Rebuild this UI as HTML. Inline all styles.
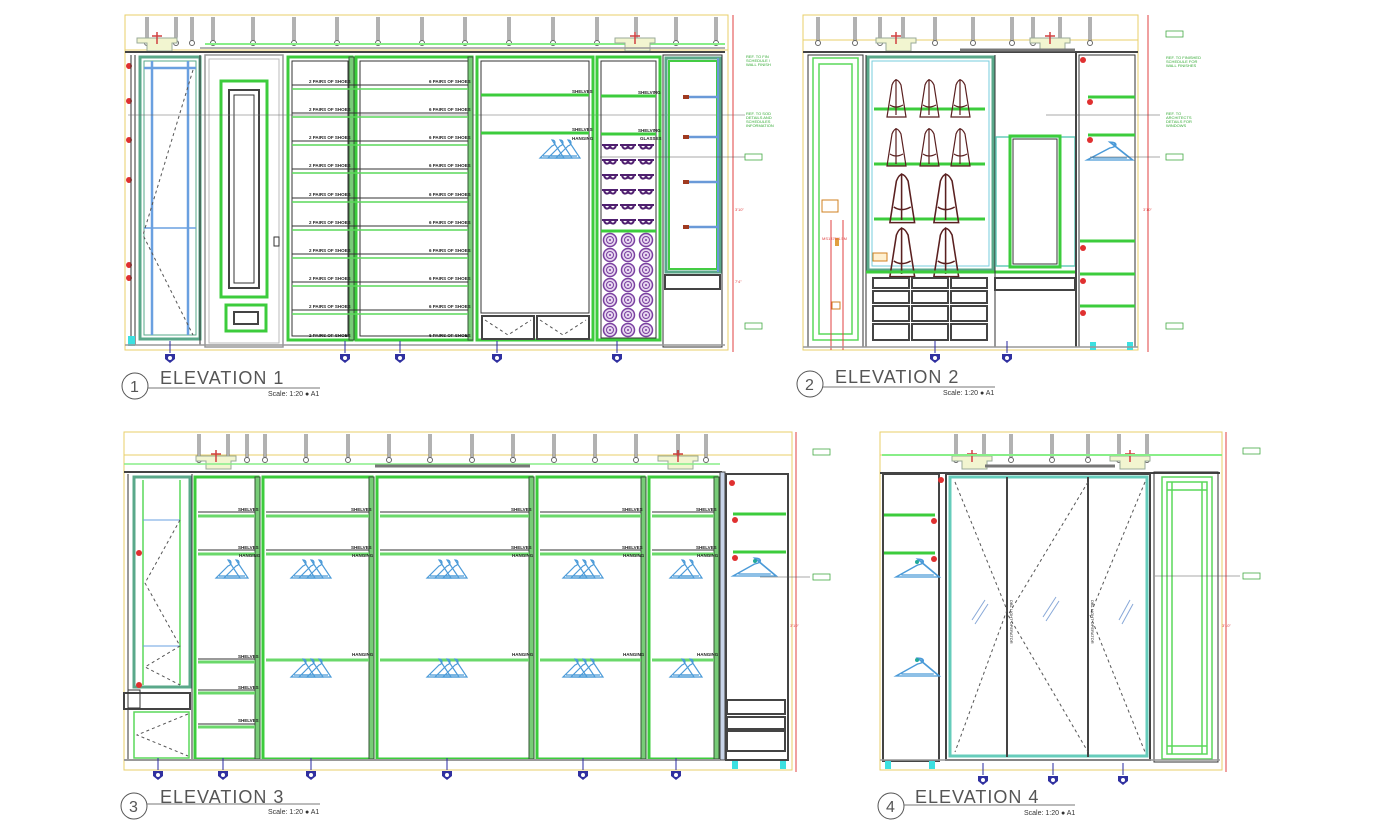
<!DOCTYPE html>
<html><head><meta charset="utf-8"><style>
html,body{margin:0;padding:0;background:#fff;}
svg{display:block;}
text{font-family:"Liberation Sans",sans-serif;}
.g{stroke:#3ccc3c;stroke-width:3;fill:none;}
.g2{stroke:#5ad85a;stroke-width:1.5;fill:none;}
.k{stroke:#333;stroke-width:1;fill:none;}
.kk{stroke:#444;stroke-width:2;fill:none;}
.gr{stroke:#999;stroke-width:1.5;fill:none;}
.y{stroke:#e8cf6a;stroke-width:1;fill:none;}
.t{stroke:#5aa88a;stroke-width:3;fill:none;}
.b{stroke:#6aa0e0;stroke-width:2.5;fill:none;}
.r{stroke:#e04040;stroke-width:1;fill:none;}
.d{stroke:#555;stroke-width:1;fill:none;stroke-dasharray:3 3;}
.s{font-size:4.5px;fill:#222;font-weight:bold;}
.c{font-size:4px;fill:#3a3;}
.ti{font-size:18px;fill:#555;letter-spacing:1px;}
.sc{font-size:7px;fill:#333;}
</style></head><body>
<svg width="1389" height="828" viewBox="0 0 1389 828" xmlns="http://www.w3.org/2000/svg">
<defs>
<g id="rod"><line x1="0" y1="0" x2="0" y2="24" stroke="#666" stroke-width="3"/><line x1="0" y1="0" x2="0" y2="24" stroke="#fff" stroke-width="1"/><circle cx="0" cy="26" r="2.5" fill="none" stroke="#666"/></g>
<g id="hg"><path d="M12,0 q3,0 3,3 q0,2 -3,3 L0,18 L24,18 Z M3,16 L21,16" fill="none" stroke="#4a9ad8" stroke-width="1.2"/></g>
<g id="hg3"><use href="#hg" x="0"/><use href="#hg" x="8"/><use href="#hg" x="16"/></g>
<g id="hg2"><use href="#hg" x="0"/><use href="#hg" x="8"/></g>
<g id="mk"><line x1="0" y1="-10" x2="0" y2="2" stroke="#2a2aa0" stroke-width="1"/><path d="M-5,3 L5,3 L5,8 L0,12 L-5,8 Z" fill="#3030a0"/><circle cx="0" cy="7" r="2" fill="#fff"/></g>
<g id="bag"><path d="M3,42 L8,10 Q12,0 17,10 L22,42 Z M12,4 L12,40 M6,30 Q12,34 19,30" fill="none" stroke="#5a2020" stroke-width="1.2"/></g>
<g id="gl"><path d="M0,3 h16 M2,3 q1,5 5,3 q1,-3 2,0 q4,2 5,-3" fill="none" stroke="#502070" stroke-width="2"/></g>
<g id="roll"><circle cx="7" cy="7" r="6.5" fill="#e8d8f0" stroke="#7a40a0" stroke-width="1.5"/><circle cx="7" cy="7" r="3.5" fill="none" stroke="#7a40a0"/><circle cx="7" cy="7" r="1" fill="#7a40a0"/></g>
<g id="ceil">
<path d="M0,28 h40 v5 h-5 v8 h-25 v-8 h-10z" fill="#f2f5d0" stroke="#9a9" stroke-width="1"/>
<path d="M15,26 h10 M20,22 v12" stroke="#d04040" stroke-width="1.5" fill="none"/>
</g>
</defs>

<!-- ================= ELEVATION 1 ================= -->
<rect x="125" y="15" width="603" height="335" class="y"/>
<line x1="125" y1="50" x2="728" y2="50" class="y"/>
<g>
<use href="#rod" x="147" y="17"/><use href="#rod" x="176" y="17"/><use href="#rod" x="192" y="17"/><use href="#rod" x="213" y="17"/><use href="#rod" x="253" y="17"/><use href="#rod" x="294" y="17"/><use href="#rod" x="337" y="17"/><use href="#rod" x="378" y="17"/><use href="#rod" x="422" y="17"/><use href="#rod" x="465" y="17"/><use href="#rod" x="509" y="17"/><use href="#rod" x="553" y="17"/><use href="#rod" x="597" y="17"/><use href="#rod" x="636" y="17"/><use href="#rod" x="676" y="17"/><use href="#rod" x="716" y="17"/>
</g>
<line x1="205" y1="44" x2="725" y2="44" stroke="#8e8" stroke-width="2"/>
<use href="#ceil" x="137" y="10"/><use href="#ceil" x="615" y="10"/>
<line x1="125" y1="52" x2="725" y2="52" class="kk"/>
<line x1="200" y1="48" x2="725" y2="48" class="gr"/>
<!-- left red markers -->
<g fill="#e03030"><circle cx="129" cy="66" r="3"/><circle cx="129" cy="101" r="3"/><circle cx="129" cy="140" r="3"/><circle cx="129" cy="180" r="3"/><circle cx="129" cy="265" r="3"/><circle cx="129" cy="278" r="3"/></g>
<line x1="131" y1="55" x2="131" y2="345" class="k"/><line x1="135" y1="55" x2="135" y2="345" class="k"/>
<rect x="128" y="336" width="7" height="10" fill="#3ce0e0"/>
<!-- left glass panel -->
<rect x="140" y="57" width="60" height="282" class="t"/>
<rect x="144" y="61" width="52" height="274" stroke="#5a8" stroke-width="1" fill="none"/>
<line x1="152" y1="61" x2="152" y2="335" class="b"/><line x1="188" y1="61" x2="188" y2="335" class="b"/>
<line x1="144" y1="68" x2="196" y2="68" class="b"/><line x1="144" y1="228" x2="196" y2="228" stroke="#6aa0e0" stroke-width="1.5"/>
<path d="M193,70 L143,235 L193,335" class="d"/>
<line x1="200" y1="55" x2="200" y2="345" class="k"/>
<!-- door -->
<rect x="205" y="55" width="78" height="292" class="gr"/>
<rect x="209" y="59" width="70" height="284" stroke="#bbb" fill="none"/>
<rect x="221" y="81" width="46" height="216" class="g"/>
<rect x="229" y="90" width="30" height="198" class="kk"/>
<rect x="234" y="95" width="20" height="188" class="k"/>
<rect x="226" y="305" width="40" height="26" class="g"/>
<rect x="234" y="312" width="24" height="12" class="kk"/>
<rect x="274" y="237" width="5" height="9" class="k"/>
<line x1="128" y1="115" x2="745" y2="115" stroke="#666" stroke-width="0.6"/>
<!-- shoe col 1 -->
<rect x="288" y="57" width="64" height="283" class="g"/>
<rect x="292" y="61" width="56" height="275" class="k"/>
<rect x="349" y="57" width="5" height="283" fill="#7c7" stroke="#353"/>
<!-- shoe col 2 -->
<rect x="356" y="57" width="116" height="283" class="g"/>
<rect x="360" y="61" width="108" height="275" class="k"/>
<rect x="468" y="57" width="5" height="283" fill="#7c7" stroke="#353"/>
<g>
<line x1="292" y1="85" x2="468" y2="85" class="k"/><line x1="292" y1="89" x2="468" y2="89" class="g2" stroke-width="3"/>
<line x1="292" y1="113" x2="468" y2="113" class="k"/><line x1="292" y1="117" x2="468" y2="117" class="g2" stroke-width="3"/>
<line x1="292" y1="141" x2="468" y2="141" class="k"/><line x1="292" y1="145" x2="468" y2="145" class="g2" stroke-width="3"/>
<line x1="292" y1="169" x2="468" y2="169" class="k"/><line x1="292" y1="173" x2="468" y2="173" class="g2" stroke-width="3"/>
<line x1="292" y1="198" x2="468" y2="198" class="k"/><line x1="292" y1="202" x2="468" y2="202" class="g2" stroke-width="3"/>
<line x1="292" y1="226" x2="468" y2="226" class="k"/><line x1="292" y1="230" x2="468" y2="230" class="g2" stroke-width="3"/>
<line x1="292" y1="254" x2="468" y2="254" class="k"/><line x1="292" y1="258" x2="468" y2="258" class="g2" stroke-width="3"/>
<line x1="292" y1="282" x2="468" y2="282" class="k"/><line x1="292" y1="286" x2="468" y2="286" class="g2" stroke-width="3"/>
<line x1="292" y1="310" x2="468" y2="310" class="k"/><line x1="292" y1="314" x2="468" y2="314" class="g2" stroke-width="3"/>
</g>
<g class="s">
<text x="309" y="83">2 PAIRS OF SHOES</text><text x="429" y="83">6 PAIRS OF SHOES</text>
<text x="309" y="111">2 PAIRS OF SHOES</text><text x="429" y="111">6 PAIRS OF SHOES</text>
<text x="309" y="139">2 PAIRS OF SHOES</text><text x="429" y="139">6 PAIRS OF SHOES</text>
<text x="309" y="167">2 PAIRS OF SHOES</text><text x="429" y="167">6 PAIRS OF SHOES</text>
<text x="309" y="196">2 PAIRS OF SHOES</text><text x="429" y="196">6 PAIRS OF SHOES</text>
<text x="309" y="224">2 PAIRS OF SHOES</text><text x="429" y="224">6 PAIRS OF SHOES</text>
<text x="309" y="252">2 PAIRS OF SHOES</text><text x="429" y="252">6 PAIRS OF SHOES</text>
<text x="309" y="280">2 PAIRS OF SHOES</text><text x="429" y="280">6 PAIRS OF SHOES</text>
<text x="309" y="308">2 PAIRS OF SHOES</text><text x="429" y="308">6 PAIRS OF SHOES</text>
<text x="309" y="337">2 PAIRS OF SHOES</text><text x="429" y="337">6 PAIRS OF SHOES</text>
</g>
<!-- hanging col -->
<rect x="477" y="57" width="116" height="283" class="g"/>
<rect x="481" y="61" width="108" height="252" class="k"/>
<line x1="481" y1="95" x2="589" y2="95" class="g"/><line x1="481" y1="133" x2="589" y2="133" class="g"/>
<text x="572" y="93" class="s">SHELVES</text><text x="572" y="131" class="s">SHELVES</text><text x="572" y="140" class="s">HANGING</text>
<use href="#hg3" x="540" y="140"/>
<rect x="482" y="316" width="52" height="23" class="kk"/><rect x="537" y="316" width="52" height="23" class="kk"/>
<path d="M485,320 L508,335 L531,320 M540,320 L563,335 L586,320" class="d"/>
<!-- col glasses/rolls -->
<rect x="597" y="57" width="63" height="283" class="g"/>
<rect x="601" y="61" width="55" height="277" class="k"/>
<line x1="601" y1="96" x2="656" y2="96" class="g"/><line x1="601" y1="134" x2="656" y2="134" class="g"/>
<text x="638" y="94" class="s">SHELVING</text><text x="638" y="132" class="s">SHELVING</text><text x="640" y="140" class="s">GLASSES</text>
<g>
<use href="#gl" x="602" y="142"/><use href="#gl" x="620" y="142"/><use href="#gl" x="638" y="142"/>
<use href="#gl" x="602" y="157"/><use href="#gl" x="620" y="157"/><use href="#gl" x="638" y="157"/>
<use href="#gl" x="602" y="172"/><use href="#gl" x="620" y="172"/><use href="#gl" x="638" y="172"/>
<use href="#gl" x="602" y="187"/><use href="#gl" x="620" y="187"/><use href="#gl" x="638" y="187"/>
<use href="#gl" x="602" y="202"/><use href="#gl" x="620" y="202"/><use href="#gl" x="638" y="202"/>
<use href="#gl" x="602" y="217"/><use href="#gl" x="620" y="217"/><use href="#gl" x="638" y="217"/>
</g>
<line x1="601" y1="231" x2="656" y2="231" class="g"/>
<g>
<use href="#roll" x="603" y="233"/><use href="#roll" x="621" y="233"/><use href="#roll" x="639" y="233"/>
<use href="#roll" x="603" y="248"/><use href="#roll" x="621" y="248"/><use href="#roll" x="639" y="248"/>
<use href="#roll" x="603" y="263"/><use href="#roll" x="621" y="263"/><use href="#roll" x="639" y="263"/>
<use href="#roll" x="603" y="278"/><use href="#roll" x="621" y="278"/><use href="#roll" x="639" y="278"/>
<use href="#roll" x="603" y="293"/><use href="#roll" x="621" y="293"/><use href="#roll" x="639" y="293"/>
<use href="#roll" x="603" y="308"/><use href="#roll" x="621" y="308"/><use href="#roll" x="639" y="308"/>
<use href="#roll" x="603" y="323"/><use href="#roll" x="621" y="323"/><use href="#roll" x="639" y="323"/>
</g>
<!-- right glass shelves -->
<rect x="663" y="55" width="59" height="292" class="k"/>
<rect x="666" y="58" width="54" height="214" class="t" stroke="#7cd" />
<rect x="669" y="61" width="48" height="208" stroke="#4c4" stroke-width="2" fill="none"/>
<g stroke="#6a9ad8" stroke-width="2.5"><line x1="685" y1="97" x2="718" y2="97"/><line x1="685" y1="137" x2="718" y2="137"/><line x1="685" y1="182" x2="718" y2="182"/><line x1="685" y1="227" x2="718" y2="227"/></g>
<g fill="#a03a20"><rect x="683" y="95" width="6" height="4"/><rect x="683" y="135" width="6" height="4"/><rect x="683" y="180" width="6" height="4"/><rect x="683" y="225" width="6" height="4"/></g>
<line x1="718" y1="58" x2="718" y2="272" stroke="#6a9ad8" stroke-width="2"/>
<rect x="665" y="275" width="55" height="14" class="kk"/>
<line x1="125" y1="345" x2="725" y2="345" class="gr"/>
<line x1="733" y1="15" x2="733" y2="352" class="r"/>
<text x="735" y="211" font-size="4" fill="#e04040">3'10"</text>
<text x="735" y="283" font-size="4" fill="#e04040">7'4"</text>
<g class="c"><text x="746" y="58">REF. TO FIN</text><text x="746" y="62">SCHEDULE /</text><text x="746" y="66">WALL FINISH</text>
<text x="746" y="115">REF. TO SOD</text><text x="746" y="119">DETAILS AND</text><text x="746" y="123">SCHEDULES</text><text x="746" y="127">INFORMATION</text></g>
<line x1="600" y1="157" x2="745" y2="157" stroke="#555" stroke-width="0.6"/>
<rect x="745" y="154" width="17" height="6" stroke="#4a4" fill="none" stroke-width="0.8"/>
<rect x="745" y="323" width="17" height="6" stroke="#4a4" fill="none" stroke-width="0.8"/>
<use href="#mk" x="170" y="351"/><use href="#mk" x="345" y="351"/><use href="#mk" x="400" y="351"/><use href="#mk" x="497" y="351"/><use href="#mk" x="617" y="351"/>
<!-- title 1 -->
<circle cx="135" cy="386" r="13" fill="none" stroke="#555" stroke-width="1"/>
<text x="130" y="392" font-size="16" fill="#555">1</text>
<line x1="148" y1="388" x2="320" y2="388" stroke="#777" stroke-width="1"/>
<text x="160" y="384" class="ti">ELEVATION  1</text>
<text x="268" y="396" class="sc">Scale:  1:20  ●  A1</text>

<!-- ================= ELEVATION 2 ================= -->
<rect x="803" y="15" width="335" height="335" class="y"/>
<line x1="803" y1="40" x2="1138" y2="40" class="y"/>
<g><use href="#rod" x="818" y="17"/><use href="#rod" x="855" y="17"/><use href="#rod" x="880" y="17"/><use href="#rod" x="903" y="17"/><use href="#rod" x="935" y="17"/><use href="#rod" x="973" y="17"/><use href="#rod" x="1012" y="17"/><use href="#rod" x="1033" y="17"/><use href="#rod" x="1060" y="17"/><use href="#rod" x="1090" y="17"/></g>
<use href="#ceil" x="876" y="10"/><use href="#ceil" x="1030" y="10"/>
<line x1="803" y1="52" x2="1138" y2="52" class="kk"/>
<line x1="960" y1="50" x2="1075" y2="50" stroke="#777" stroke-width="3"/>
<rect x="808" y="55" width="55" height="292" class="k"/>
<rect x="813" y="58" width="45" height="282" class="g2" stroke-width="2"/>
<rect x="819" y="64" width="33" height="270" class="g2" stroke-width="2"/>
<rect x="822" y="200" width="16" height="12" stroke="#d08020" fill="none"/>
<rect x="835" y="238" width="4" height="8" fill="#e0a040"/>
<rect x="832" y="302" width="8" height="7" stroke="#d08020" fill="none"/>
<line x1="831" y1="220" x2="831" y2="350" class="r"/><line x1="843" y1="220" x2="843" y2="350" class="r"/>
<text x="822" y="240" font-size="4" fill="#e04040">MS1370/1.5M</text>
<rect x="873" y="253" width="14" height="8" stroke="#d08020" fill="#fff0d0"/>
<line x1="866" y1="55" x2="866" y2="347" class="k"/>
<rect x="868" y="57" width="125" height="213" class="t"/>
<rect x="872" y="61" width="117" height="205" stroke="#7cd" fill="none"/>
<line x1="874" y1="109" x2="985" y2="109" class="g"/><line x1="874" y1="164" x2="985" y2="164" class="g"/><line x1="874" y1="219" x2="985" y2="219" class="g"/>
<use href="#bag" x="884" y="75"/><use href="#bag" x="917" y="75"/><use href="#bag" x="948" y="75"/>
<use href="#bag" x="884" y="124"/><use href="#bag" x="917" y="124"/><use href="#bag" x="948" y="124"/>
<use href="#bag" transform="translate(886,168) scale(1.3)"/><use href="#bag" transform="translate(930,168) scale(1.3)"/>
<use href="#bag" transform="translate(886,222) scale(1.3)"/><use href="#bag" transform="translate(930,222) scale(1.3)"/>
<line x1="866" y1="272" x2="1076" y2="272" class="g"/>
<g class="kk" stroke-width="1.5"><rect x="873" y="278" width="36" height="10"/><rect x="912" y="278" width="36" height="10"/><rect x="951" y="278" width="36" height="10"/>
<rect x="873" y="291" width="36" height="12"/><rect x="912" y="291" width="36" height="12"/><rect x="951" y="291" width="36" height="12"/>
<rect x="873" y="306" width="36" height="15"/><rect x="912" y="306" width="36" height="15"/><rect x="951" y="306" width="36" height="15"/>
<rect x="873" y="324" width="36" height="16"/><rect x="912" y="324" width="36" height="16"/><rect x="951" y="324" width="36" height="16"/></g>
<line x1="995" y1="55" x2="995" y2="347" class="k"/>
<rect x="996" y="137" width="79" height="129" stroke="#6cb" stroke-width="1.5" fill="none"/>
<rect x="1010" y="136" width="50" height="131" class="g"/>
<rect x="1013" y="139" width="44" height="125" class="k"/>
<rect x="995" y="278" width="80" height="12" class="kk"/>
<line x1="1076" y1="52" x2="1076" y2="347" class="kk"/>
<rect x="1079" y="55" width="56" height="292" class="k"/>
<g><line x1="1088" y1="97" x2="1135" y2="97" class="g"/><line x1="1088" y1="135" x2="1135" y2="135" class="g"/><line x1="1080" y1="241" x2="1135" y2="241" class="g"/><line x1="1080" y1="274" x2="1135" y2="274" class="g"/><line x1="1080" y1="306" x2="1135" y2="306" class="g"/></g>
<g fill="#e03030"><circle cx="1083" cy="60" r="3"/><circle cx="1090" cy="102" r="3"/><circle cx="1090" cy="140" r="3"/><circle cx="1083" cy="248" r="3"/><circle cx="1083" cy="281" r="3"/><circle cx="1083" cy="313" r="3"/></g>
<use href="#hg" transform="translate(1087,142) scale(1.9,1)"/>
<rect x="1090" y="342" width="6" height="8" fill="#3ce0e0"/><rect x="1127" y="342" width="6" height="8" fill="#3ce0e0"/>
<line x1="803" y1="347" x2="1138" y2="347" class="gr"/>
<line x1="1148" y1="15" x2="1148" y2="352" class="r"/>
<text x="1143" y="211" font-size="4" fill="#e04040">3'10"</text>
<line x1="1046" y1="115" x2="1160" y2="115" stroke="#555" stroke-width="0.6"/>
<line x1="1090" y1="157" x2="1160" y2="157" stroke="#555" stroke-width="0.6"/>
<g class="c"><text x="1166" y="59">REF. TO FINISHED</text><text x="1166" y="63">SCHEDULE FOR</text><text x="1166" y="67">WALL FINISHES</text>
<text x="1166" y="115">REF. TO</text><text x="1166" y="119">ARCHITECTS</text><text x="1166" y="123">DETAILS FOR</text><text x="1166" y="127">WINDOWS</text></g>
<rect x="1166" y="154" width="17" height="6" stroke="#4a4" fill="none" stroke-width="0.8"/>
<rect x="1166" y="323" width="17" height="6" stroke="#4a4" fill="none" stroke-width="0.8"/>
<rect x="1166" y="31" width="17" height="6" stroke="#4a4" fill="none" stroke-width="0.8"/>
<use href="#mk" x="935" y="351"/><use href="#mk" x="1007" y="351"/>
<circle cx="810" cy="384" r="13" fill="none" stroke="#555"/>
<text x="805" y="390" font-size="16" fill="#555">2</text>
<line x1="823" y1="387" x2="995" y2="387" stroke="#777"/>
<text x="835" y="383" class="ti">ELEVATION  2</text>
<text x="943" y="395" class="sc">Scale:  1:20  ●  A1</text>

<!-- ================= ELEVATION 3 ================= -->
<rect x="124" y="432" width="668" height="338" class="y"/>
<line x1="124" y1="455" x2="792" y2="455" class="y"/>
<g><use href="#rod" x="199" y="434"/><use href="#rod" x="228" y="434"/><use href="#rod" x="247" y="434"/><use href="#rod" x="265" y="434"/><use href="#rod" x="306" y="434"/><use href="#rod" x="348" y="434"/><use href="#rod" x="389" y="434"/><use href="#rod" x="430" y="434"/><use href="#rod" x="472" y="434"/><use href="#rod" x="513" y="434"/><use href="#rod" x="554" y="434"/><use href="#rod" x="595" y="434"/><use href="#rod" x="636" y="434"/><use href="#rod" x="678" y="434"/><use href="#rod" x="706" y="434"/></g>
<use href="#ceil" x="196" y="428"/><use href="#ceil" x="658" y="428"/>
<line x1="124" y1="464" x2="720" y2="464" stroke="#8e8" stroke-width="1.5"/>
<line x1="375" y1="466" x2="530" y2="466" stroke="#777" stroke-width="3"/>
<line x1="124" y1="472" x2="722" y2="472" class="kk"/>
<line x1="128" y1="474" x2="128" y2="760" class="k"/>
<rect x="134" y="477" width="56" height="210" class="t"/>
<line x1="143" y1="480" x2="143" y2="685" class="g2"/><line x1="180" y1="480" x2="180" y2="685" class="g2"/>
<line x1="143" y1="520" x2="180" y2="520" stroke="#6aa0e0"/><line x1="143" y1="646" x2="180" y2="646" stroke="#6aa0e0"/>
<path d="M180,520 L145,583 L180,646 L145,667 L180,685" class="d"/>
<circle cx="139" cy="553" r="3" fill="#e03030"/><circle cx="139" cy="685" r="3" fill="#e03030"/>
<rect x="124" y="693" width="66" height="16" class="kk"/><rect x="128" y="690" width="12" height="18" class="k"/>
<rect x="134" y="712" width="55" height="46" class="g2" stroke-width="2"/>
<path d="M188,714 L137,735 L188,756" class="d"/>
<line x1="192" y1="474" x2="192" y2="760" class="k"/>
<!-- cols -->
<g>
<rect x="195" y="477" width="63" height="282" class="g"/><rect x="255" y="477" width="5" height="282" fill="#7c7" stroke="#353"/>
<rect x="263" y="477" width="109" height="282" class="g"/><rect x="369" y="477" width="5" height="282" fill="#7c7" stroke="#353"/>
<rect x="377" y="477" width="155" height="282" class="g"/><rect x="529" y="477" width="5" height="282" fill="#7c7" stroke="#353"/>
<rect x="537" y="477" width="107" height="282" class="g"/><rect x="641" y="477" width="5" height="282" fill="#7c7" stroke="#353"/>
<rect x="649" y="477" width="68" height="282" class="g"/><rect x="714" y="477" width="5" height="282" fill="#7c7" stroke="#353"/>
</g>
<g class="k">
<line x1="198" y1="512" x2="255" y2="512"/><line x1="266" y1="512" x2="369" y2="512"/><line x1="380" y1="512" x2="529" y2="512"/><line x1="540" y1="512" x2="641" y2="512"/><line x1="652" y1="512" x2="714" y2="512"/>
<line x1="198" y1="550" x2="255" y2="550"/><line x1="266" y1="550" x2="369" y2="550"/><line x1="380" y1="550" x2="529" y2="550"/><line x1="540" y1="550" x2="641" y2="550"/><line x1="652" y1="550" x2="714" y2="550"/>
<line x1="198" y1="659" x2="255" y2="659"/><line x1="198" y1="690" x2="255" y2="690"/><line x1="198" y1="724" x2="255" y2="724"/>
</g>
<g stroke="#6ad86a" stroke-width="3">
<line x1="198" y1="516" x2="255" y2="516"/><line x1="266" y1="516" x2="369" y2="516"/><line x1="380" y1="516" x2="529" y2="516"/><line x1="540" y1="516" x2="641" y2="516"/><line x1="652" y1="516" x2="714" y2="516"/>
<line x1="198" y1="554" x2="255" y2="554"/><line x1="266" y1="554" x2="369" y2="554"/><line x1="380" y1="554" x2="529" y2="554"/><line x1="540" y1="554" x2="641" y2="554"/><line x1="652" y1="554" x2="714" y2="554"/>
<line x1="198" y1="662" x2="255" y2="662"/><line x1="266" y1="660" x2="369" y2="660"/><line x1="380" y1="660" x2="529" y2="660"/><line x1="540" y1="660" x2="641" y2="660"/><line x1="652" y1="660" x2="714" y2="660"/>
<line x1="198" y1="693" x2="255" y2="693"/><line x1="198" y1="727" x2="255" y2="727"/>
</g>
<g class="s">
<text x="238" y="511">SHELVES</text><text x="351" y="511">SHELVES</text><text x="511" y="511">SHELVES</text><text x="622" y="511">SHELVES</text><text x="696" y="511">SHELVES</text>
<text x="238" y="549">SHELVES</text><text x="351" y="549">SHELVES</text><text x="511" y="549">SHELVES</text><text x="622" y="549">SHELVES</text><text x="696" y="549">SHELVES</text>
<text x="239" y="557">HANGING</text><text x="352" y="557">HANGING</text><text x="512" y="557">HANGING</text><text x="623" y="557">HANGING</text><text x="697" y="557">HANGING</text>
<text x="238" y="658">SHELVES</text><text x="238" y="689">SHELVES</text><text x="238" y="722">SHELVES</text>
<text x="352" y="656">HANGING</text><text x="512" y="656">HANGING</text><text x="623" y="656">HANGING</text><text x="697" y="656">HANGING</text>
</g>
<use href="#hg2" x="216" y="560"/><use href="#hg3" x="291" y="560"/><use href="#hg3" x="427" y="560"/><use href="#hg3" x="563" y="560"/><use href="#hg2" x="670" y="560"/>
<use href="#hg3" x="291" y="659"/><use href="#hg3" x="427" y="659"/><use href="#hg3" x="563" y="659"/><use href="#hg2" x="670" y="659"/>
<!-- right col -->
<rect x="720" y="472" width="5" height="288" fill="#c8d4e8" stroke="#444"/>
<rect x="726" y="474" width="62" height="286" class="kk"/>
<g class="g"><line x1="733" y1="514" x2="786" y2="514"/><line x1="733" y1="552" x2="786" y2="552"/></g>
<g fill="#e03030"><circle cx="732" cy="483" r="3"/><circle cx="735" cy="520" r="3"/><circle cx="735" cy="558" r="3"/></g>
<use href="#hg" transform="translate(733,558) scale(1.8,1)"/>
<circle cx="755" cy="561" r="2" fill="#2a9"/>
<g class="kk" stroke-width="1.5"><rect x="727" y="700" width="58" height="14"/><rect x="727" y="717" width="58" height="12"/><rect x="727" y="731" width="58" height="20"/></g>
<rect x="732" y="761" width="6" height="8" fill="#3ce0e0"/><rect x="780" y="761" width="6" height="8" fill="#3ce0e0"/>
<line x1="124" y1="760" x2="720" y2="760" stroke="#999" stroke-width="2"/>
<line x1="796" y1="432" x2="796" y2="772" class="r"/>
<text x="790" y="627" font-size="4" fill="#e04040">3'10"</text>
<line x1="760" y1="577" x2="810" y2="577" stroke="#555" stroke-width="0.6"/>
<rect x="813" y="574" width="17" height="6" stroke="#4a4" fill="none" stroke-width="0.8"/>
<rect x="813" y="449" width="17" height="6" stroke="#4a4" fill="none" stroke-width="0.8"/>
<use href="#mk" x="158" y="768"/><use href="#mk" x="223" y="768"/><use href="#mk" x="311" y="768"/><use href="#mk" x="447" y="768"/><use href="#mk" x="583" y="768"/><use href="#mk" x="676" y="768"/>
<circle cx="134" cy="806" r="13" fill="none" stroke="#555"/>
<text x="129" y="812" font-size="16" fill="#555">3</text>
<line x1="147" y1="804" x2="320" y2="804" stroke="#777"/>
<text x="160" y="803" class="ti">ELEVATION  3</text>
<text x="268" y="814" class="sc">Scale:  1:20  ●  A1</text>

<!-- ================= ELEVATION 4 ================= -->
<rect x="880" y="432" width="342" height="338" class="y"/>
<line x1="880" y1="455" x2="1222" y2="455" class="y"/>
<g><use href="#rod" x="956" y="434"/><use href="#rod" x="984" y="434"/><use href="#rod" x="1011" y="434"/><use href="#rod" x="1052" y="434"/><use href="#rod" x="1088" y="434"/><use href="#rod" x="1119" y="434"/><use href="#rod" x="1147" y="434"/></g>
<use href="#ceil" x="952" y="428"/><use href="#ceil" x="1110" y="428"/>
<line x1="882" y1="455" x2="1222" y2="455" stroke="#8e8" stroke-width="2"/>
<line x1="985" y1="466" x2="1115" y2="466" stroke="#777" stroke-width="3"/>
<line x1="880" y1="473" x2="1220" y2="473" class="kk"/>
<rect x="883" y="474" width="56" height="287" class="kk"/>
<g class="g"><line x1="884" y1="515" x2="935" y2="515"/><line x1="884" y1="553" x2="935" y2="553"/></g>
<g fill="#e03030"><circle cx="941" cy="480" r="3"/><circle cx="934" cy="521" r="3"/><circle cx="934" cy="559" r="3"/></g>
<use href="#hg" transform="translate(896,559) scale(1.8,1)"/><use href="#hg" transform="translate(896,658) scale(1.8,1)"/>
<circle cx="917" cy="562" r="2" fill="#2a9"/><circle cx="917" cy="660" r="2" fill="#2a9"/>
<rect x="885" y="761" width="6" height="8" fill="#3ce0e0"/><rect x="929" y="761" width="6" height="8" fill="#3ce0e0"/>
<rect x="946" y="474" width="204" height="286" class="kk"/>
<rect x="950" y="477" width="197" height="279" stroke="#6cb" stroke-width="3" fill="none"/>
<line x1="1007" y1="477" x2="1007" y2="757" class="kk"/><line x1="1088" y1="477" x2="1088" y2="757" class="kk"/>
<path d="M955,482 L1007,610 L955,752 M1088,482 L1008,615 L1088,752 M1145,482 L1090,615 L1145,752" class="d"/>
<path d="M972,620 L985,600 M975,624 L988,604 M1043,617 L1056,597 M1046,621 L1059,601 M1119,620 L1130,600 M1122,624 L1133,604" stroke="#88a8d8" stroke-width="1"/>
<text transform="translate(1010,600) rotate(90)" font-size="4" fill="#222">DBL LIGHT OPERATOR</text>
<text transform="translate(1091,600) rotate(90)" font-size="4" fill="#222">DBL LIGHT OPERATOR</text>
<rect x="1154" y="472" width="64" height="290" class="k"/>
<rect x="1162" y="477" width="50" height="282" class="g2" stroke-width="2"/>
<rect x="1167" y="482" width="40" height="272" class="g2" stroke-width="2"/>
<line x1="1172" y1="482" x2="1172" y2="754" class="g2"/><line x1="1202" y1="482" x2="1202" y2="754" class="g2"/>
<line x1="1167" y1="490" x2="1207" y2="490" class="g2"/><line x1="1167" y1="746" x2="1207" y2="746" class="g2"/>
<line x1="880" y1="760" x2="1220" y2="760" class="gr"/>
<line x1="1226" y1="432" x2="1226" y2="772" class="r"/>
<text x="1222" y="627" font-size="4" fill="#e04040">3'10"</text>
<line x1="1155" y1="576" x2="1240" y2="576" stroke="#555" stroke-width="0.6"/>
<rect x="1243" y="573" width="17" height="6" stroke="#4a4" fill="none" stroke-width="0.8"/>
<rect x="1243" y="448" width="17" height="6" stroke="#4a4" fill="none" stroke-width="0.8"/>
<use href="#mk" x="983" y="773"/><use href="#mk" x="1053" y="773"/><use href="#mk" x="1123" y="773"/>
<circle cx="891" cy="806" r="13" fill="none" stroke="#555"/>
<text x="886" y="812" font-size="16" fill="#555">4</text>
<line x1="904" y1="805" x2="1075" y2="805" stroke="#777"/>
<text x="915" y="803" class="ti">ELEVATION  4</text>
<text x="1024" y="815" class="sc">Scale:  1:20  ●  A1</text>
</svg>
</body></html>
